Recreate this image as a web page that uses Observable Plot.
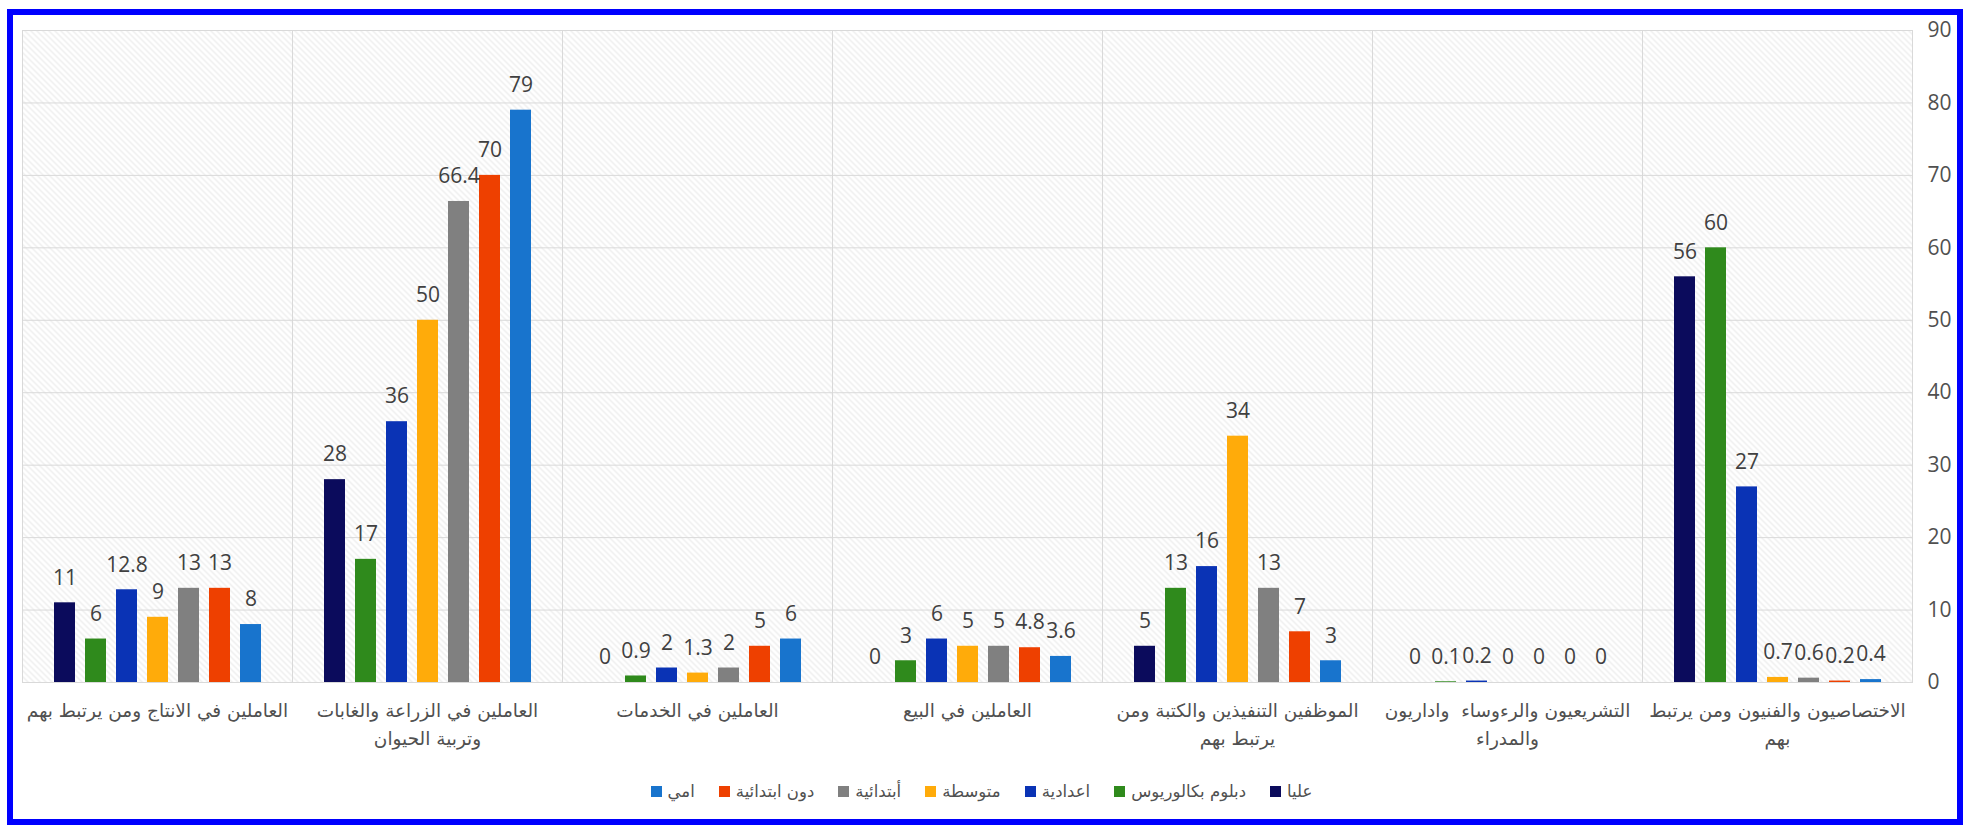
<!DOCTYPE html>
<html>
<head>
<meta charset="utf-8">
<script src="https://cdn.jsdelivr.net/npm/d3@7"></script>
<script src="https://cdn.jsdelivr.net/npm/@observablehq/plot@0.6"></script>
<style>
  html, body { margin: 0; padding: 0; background: #fff; width: 1963px; height: 825px; overflow: hidden; }
  #frame { position: absolute; left: 7px; top: 9px; width: 1956px; height: 816px; box-sizing: border-box; border: 6px solid #0000ff; }
  #chart { position: absolute; left: 0; top: 0; }
  #legend { position: absolute; top: 782px; left: 0; width: 1963px; display: flex; justify-content: center; direction: rtl;
            font-family: "DejaVu Sans", sans-serif; font-size: 16.5px; color: #505050; }
  .item { display: flex; align-items: center; margin: 0 12px; }
  .sw { width: 11px; height: 11px; margin-right: 6px; }
</style>
</head>
<body>
<div id="frame"></div>
<div id="chart"></div>
<div id="legend"></div>
<script>
const categories = [
  "العاملين في الانتاج ومن يرتبط بهم",
  "العاملين في الزراعة والغابات\nوتربية الحيوان",
  "العاملين في الخدمات",
  "العاملين في البيع",
  "الموظفين التنفيذين والكتبة ومن\nيرتبط بهم",
  "التشريعيون والرءوساء  واداريون\nوالمدراء",
  "الاختصاصيون والفنيون ومن يرتبط\nبهم"
];
const seriesNames = ["عليا", "دبلوم بكالوريوس", "اعدادية", "متوسطة", "أبتدائية", "دون ابتدائية", "امي"];
const seriesColors = ["#0b0b5c", "#2f8a1c", "#0a33b5", "#ffab0a", "#808080", "#ee4000", "#1874cd"];

const olya        = [11, 28, 0, 0, 5, 0, 56];
const diploma     = [6, 17, 0.9, 3, 13, 0.1, 60];
const edadiya     = [12.8, 36, 2, 6, 16, 0.2, 27];
const motawasita  = [9, 50, 1.3, 5, 34, 0, 0.7];
const ebtidaiya   = [13, 66.4, 2, 5, 13, 0, 0.6];
const donEbtidaiya= [13, 70, 5, 4.8, 7, 0, 0.2];
const ommi        = [8, 79, 6, 3.6, 3, 0, 0.4];
const yTicks = [0, 10, 20, 30, 40, 50, 60, 70, 80, 90];

const seriesValues = [olya, diploma, edadiya, motawasita, ebtidaiya, donEbtidaiya, ommi];
const data = [];
categories.forEach((c, i) => {
  seriesNames.forEach((s, j) => data.push({category: c, series: s, value: seriesValues[j][i]}));
});

const chart = Plot.plot({
  width: 1963,
  height: 770,
  marginLeft: 22,
  marginRight: 51,
  marginTop: 30,
  marginBottom: 88,
  style: {background: "transparent", fontFamily: "'Open Sans', sans-serif"},
  fx: {domain: categories, padding: 0, label: null},
  x: {domain: seriesNames, paddingInner: 0.3226, paddingOuter: 1.016, axis: null},
  y: {domain: [0, 90], label: null},
  color: {domain: seriesNames, range: seriesColors},
  marks: [
    Plot.frame({fill: "url(#hatch)", stroke: "#d9d9d9"}),
    Plot.gridY(yTicks, {stroke: "#d9d9d9", strokeOpacity: 1}),
    Plot.barY(data, {fx: "category", x: "series", y: "value", fill: "series"}),
    Plot.text(data, {fx: "category", x: "series", y: "value", text: d => String(d.value),
      dy: -25, lineAnchor: "middle", fontSize: 21, fill: "#404040", fontFamily: "'Open Sans', sans-serif"}),
    Plot.axisY(yTicks, {anchor: "right", tickSize: 0, tickPadding: 15, fontSize: 21, fill: "#505050", label: null,
      fontFamily: "'Open Sans', sans-serif"}),
    Plot.axisFx({anchor: "bottom", tickSize: 0, tickPadding: 15, fontSize: 18.5, lineHeight: 1.5, fill: "#505050",
      label: null, fontFamily: "'DejaVu Sans', sans-serif"})
  ]
});

const svg = chart.tagName.toLowerCase() === "svg" ? chart : chart.querySelector("svg");
const pat = d3.select(svg).insert("defs", ":first-child")
  .append("pattern").attr("id", "hatch").attr("patternUnits", "userSpaceOnUse")
  .attr("width", 6).attr("height", 6);
pat.append("rect").attr("width", 6).attr("height", 6).attr("fill", "#ffffff");
pat.append("path").attr("d", "M-1,-1 L7,7 M-1,5 L1,7 M5,-1 L7,1")
  .attr("stroke", "#e8e8e8").attr("stroke-width", 1.1);

document.getElementById("chart").appendChild(chart);

const legend = document.getElementById("legend");
seriesNames.forEach((s, i) => {
  const item = document.createElement("div");
  item.className = "item";
  const t = document.createElement("span");
  t.textContent = s;
  const sw = document.createElement("span");
  sw.className = "sw";
  sw.style.background = seriesColors[i];
  item.appendChild(t);
  item.appendChild(sw);
  legend.appendChild(item);
});
</script>
</body>
</html>
